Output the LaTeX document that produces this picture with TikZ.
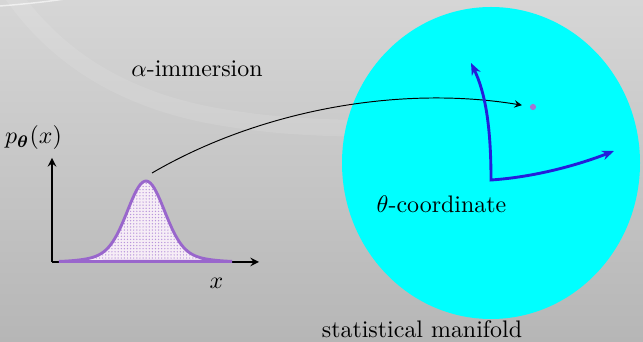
\documentclass[tikz,border=0pt]{standalone}
\usepackage{bm}
\usetikzlibrary{patterns.meta, arrows.meta}

\definecolor{bgtop}{RGB}{214,214,214}
\definecolor{bgbot}{RGB}{182,182,182}
\definecolor{manifoldcyan}{RGB}{0,255,255}
\definecolor{curvepurple}{RGB}{153,102,204}
\definecolor{frameblue}{RGB}{36,30,218}

\begin{document}
\begin{tikzpicture}[>=stealth, x=0.418pt, y=-0.418pt]
    % background
    \useasboundingbox (0,0) rectangle (643,342);
    \shade[top color=bgtop, bottom color=bgbot] (0,0) rectangle (643,342);
    \draw[white, opacity=0.1, line width=7pt]
        (12,-6) .. controls (55,55) and (120,100) .. (220,117)
        .. controls (288,128.5) and (340,128) .. (400,129);
    \draw[white, opacity=0.6, line width=0.6pt]
        (0,6) .. controls (25,4) and (45,2) .. (72,-2);

    % the manifold
    \fill[manifoldcyan] (491,163) ellipse [x radius=149, y radius=156];

    \node (alpha) at (197,69) {$\alpha$-immersion};
    \node (density) at (33.5,137.5) {$p_{\bm{\theta}}(x)$};
    \node (xlabel) at (216.5,283) {$x$};
    \node (theta) at (441.5,204.7) {$\theta$-coordinate};
    \node (manifold) at (422,329.7) {statistical manifold};

    % density plot
    \coordinate (orig) at (52,262);
    \coordinate (ytip) at (52,158);
    \coordinate (xtip) at (259,262);
    \draw[->, semithick] (orig) -- (ytip);
    \draw[->, semithick] (orig) -- (xtip);

    \draw[
        curvepurple,
        line width=1.2pt,
        preaction={fill=violet!7!white},
        pattern={Dots[distance=1.3pt, radius=0.3pt]},
        pattern color=curvepurple!70
    ]
        plot[domain=59:232, samples=90]
        (\x, {262-81*(0.85*exp(((\x-146)^2)/(-648))+0.15*exp(((\x-146)^2)/(-2450)))})
        -- cycle;

    \coordinate (peak) at (152,173);
    \node[circle, fill=curvepurple!90!white, inner sep=0pt, minimum size=2.6pt] (pt) at (533,107) {};

    \draw[->, shorten >=3.2pt]
        (peak) .. controls (260,110) and (400,85) .. (pt);

    % theta frame
    \coordinate (o) at (491,180);
    \coordinate (e1) at (471,63);
    \coordinate (e2) at (614,151);
    \draw[{Stealth[length=5pt, width=4pt]}-{Stealth[length=5pt, width=4pt]}, frameblue, line width=1.2pt]
        (e1) .. controls (485,92) and (491,125) .. (o)
        .. controls (535,177) and (578,165) .. (e2);
\end{tikzpicture}
\end{document}
